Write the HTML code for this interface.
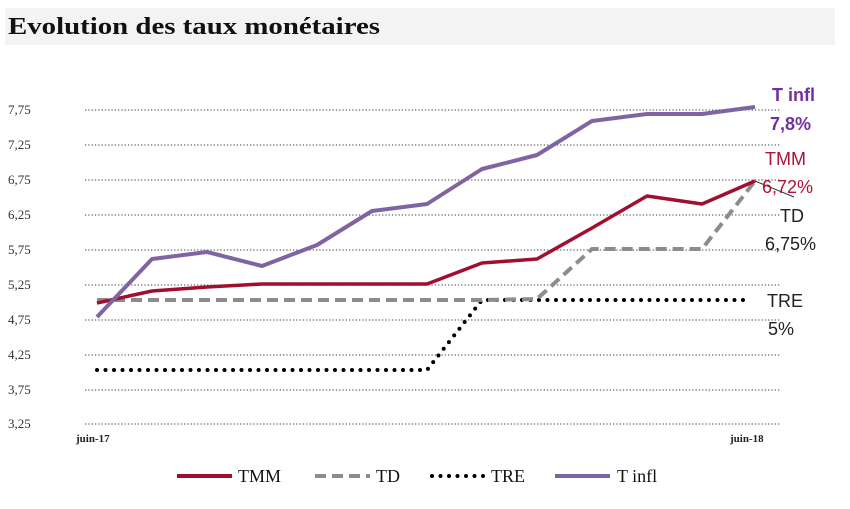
<!DOCTYPE html>
<html><head><meta charset="utf-8"><style>
body{margin:0;background:#fff;width:850px;height:504px;overflow:hidden}
</style></head><body>
<svg width="850" height="504" xmlns="http://www.w3.org/2000/svg">
<rect x="5" y="8" width="830" height="37" fill="#f3f3f3"/>
<text x="8" y="34" font-family="Liberation Serif,serif" font-size="24" font-weight="600" fill="#111" textLength="372" lengthAdjust="spacingAndGlyphs">Evolution des taux monétaires</text>
<g stroke="#666" stroke-width="1.3" stroke-dasharray="1.3 2">
<line x1="85" x2="780" y1="110" y2="110"/><line x1="85" x2="780" y1="145" y2="145"/>
<line x1="85" x2="780" y1="180" y2="180"/><line x1="85" x2="780" y1="215" y2="215"/>
<line x1="85" x2="780" y1="250" y2="250"/><line x1="85" x2="780" y1="285" y2="285"/>
<line x1="85" x2="780" y1="320" y2="320"/><line x1="85" x2="780" y1="355" y2="355"/>
<line x1="85" x2="780" y1="390" y2="390"/><line x1="85" x2="780" y1="424" y2="424"/>
</g>
<g font-family="Liberation Serif,serif" font-size="13" fill="#333">
<text x="8" y="114">7,75</text><text x="8" y="149">7,25</text><text x="8" y="184">6,75</text>
<text x="8" y="219">6,25</text><text x="8" y="254">5,75</text><text x="8" y="289">5,25</text>
<text x="8" y="324">4,75</text><text x="8" y="359">4,25</text><text x="8" y="394">3,75</text>
<text x="8" y="428">3,25</text>
</g>
<g font-family="Liberation Serif,serif" font-size="11" font-weight="bold" fill="#222">
<text x="76" y="442">juin-17</text><text x="730" y="442">juin-18</text></g>
<polyline fill="none" stroke="#000" stroke-width="4" stroke-linecap="round" stroke-dasharray="0 8.5" points="97,370 427,370 482,300 745,300"/>
<polyline fill="none" stroke="#8c8c8c" stroke-width="4" stroke-dasharray="11 6" points="97,300 482,300 537,299 592,249 702,249 755,181"/>
<polyline fill="none" stroke="#a0102e" stroke-width="3.5" stroke-linejoin="round" points="97,303 152,291 207,287 262,284 427,284 482,263 537,259 592,228 647,196 702,204 755,181"/>
<polyline fill="none" stroke="#8064a2" stroke-width="4" stroke-linejoin="round" points="97,317 152,259 207,252 262,266 317,245 372,211 427,204 482,169 537,155 592,121 647,114 702,114 755,107"/>
<line x1="755" y1="181" x2="794" y2="197" stroke="#333" stroke-width="1"/>
<g font-family="Liberation Sans,sans-serif" font-size="18">
<text x="772" y="101" fill="#7030a0" font-weight="bold">T infl</text>
<text x="770" y="130" fill="#7030a0" font-weight="bold">7,8%</text>
<text x="765" y="165" fill="#b0103a">TMM</text>
<text x="762" y="193" fill="#b0103a">6,72%</text>
<text x="780" y="222" fill="#222">TD</text>
<text x="765" y="250" fill="#222">6,75%</text>
<text x="767" y="307" fill="#222">TRE</text>
<text x="768" y="335" fill="#222">5%</text>
</g>
<line x1="177" y1="476" x2="232" y2="476" stroke="#a0102e" stroke-width="4"/>
<line x1="315" y1="476" x2="370" y2="476" stroke="#8c8c8c" stroke-width="4" stroke-dasharray="11 6"/>
<line x1="432" y1="476" x2="485" y2="476" stroke="#000" stroke-width="4" stroke-linecap="round" stroke-dasharray="0 8.5"/>
<line x1="555" y1="476" x2="610" y2="476" stroke="#8064a2" stroke-width="4"/>
<g font-family="Liberation Serif,serif" font-size="18" fill="#111">
<text x="238" y="482">TMM</text><text x="376" y="482">TD</text><text x="491" y="482">TRE</text><text x="617" y="482">T infl</text></g>
</svg>
</body></html>
